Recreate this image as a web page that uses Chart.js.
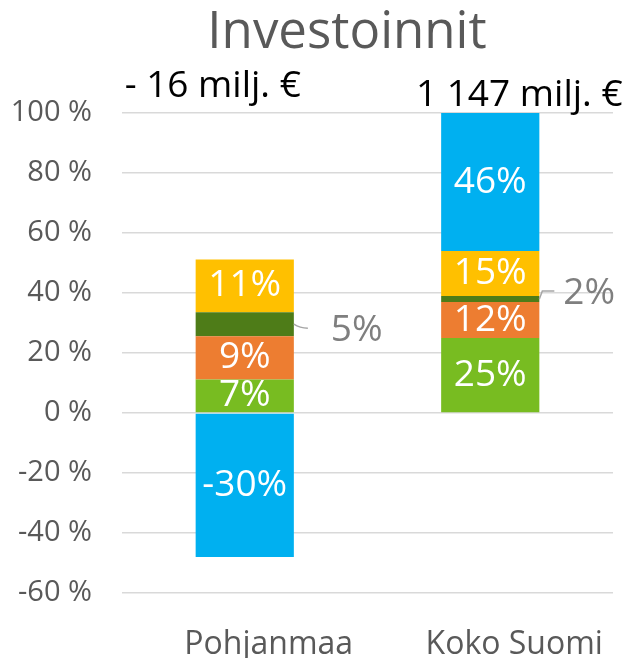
<!DOCTYPE html>
<html>
<head>
<meta charset="utf-8">
<title>Investoinnit</title>
<script src="https://cdn.jsdelivr.net/npm/chart.js@4.4.0/dist/chart.umd.min.js"></script>
<style>
    html, body { margin: 0; padding: 0; background: #ffffff; }
    #wrap { width: 631px; height: 661px; }
</style>
</head>
<body>
<div id="wrap"><canvas id="chart" width="631" height="661"></canvas></div>
<script>
(function() {
    'use strict';

    // --- data (bar heights, labels as printed) ---
    var title = 'Investoinnit';
    var categories = ['Pohjanmaa', 'Koko Suomi'];
    var totals = ['- 16 milj. €', '1 147 milj. €'];

    var seriesNames = ['Sarja 1', 'Sarja 2', 'Sarja 3', 'Sarja 4', 'Sarja 5'];
    var series1 = [11.2, 25];
    var series2 = [14.4, 12];
    var series3 = [8, 2];
    var series4 = [17.6, 15];
    var series5 = [-48, 46];

    var labels1 = ['7%', '25%'];
    var labels2 = ['9%', '12%'];
    var labels3 = ['5%', '2%'];
    var labels4 = ['11%', '15%'];
    var labels5 = ['-30%', '46%'];

    var yTicks = [-60, -40, -20, 0, 20, 40, 60, 80, 100];

    var colors = ['#78BC21', '#ED7D31', '#4E7C18', '#FFC000', '#00B0F0'];
    var FONT = "'Open Sans', 'DejaVu Sans', sans-serif";

    var seriesValues = [series1, series2, series3, series4, series5];
    var seriesLabels = [labels1, labels2, labels3, labels4, labels5];
    var OUTSIDE = 2; // thin segment, label drawn beside the bar

    var barLabels = {
        id: 'barLabels',
        beforeDraw: function(chart) {
            var ctx = chart.ctx;
            ctx.save();
            ctx.fillStyle = '#595959';
            ctx.font = '51px ' + FONT;
            ctx.textAlign = 'center';
            ctx.textBaseline = 'middle';
            ctx.fillText(title, 347, 33);
            ctx.restore();
        },
        afterDatasetsDraw: function(chart) {
            var ctx = chart.ctx;
            ctx.save();
            ctx.textBaseline = 'middle';
            seriesLabels.forEach(function(labels, d) {
                var meta = chart.getDatasetMeta(d);
                meta.data.forEach(function(el, i) {
                    var p = el.getProps(['x', 'y', 'base', 'width'], true);
                    var cy = (p.y + p.base) / 2;
                    if (d === OUTSIDE) {
                        var right = p.x + p.width / 2;
                        ctx.strokeStyle = '#A6A6A6';
                        ctx.lineWidth = 1.5;
                        ctx.beginPath();
                        ctx.moveTo(right, cy);
                        if (i === 0) {
                            ctx.quadraticCurveTo(right + 6, cy + 4, right + 14, cy + 4);
                        } else {
                            ctx.lineTo(right + 3, cy - 8);
                            ctx.lineTo(right + 15, cy - 8);
                        }
                        ctx.stroke();
                        ctx.fillStyle = '#7F7F7F';
                        ctx.font = '37px ' + FONT;
                        ctx.textAlign = 'left';
                        if (i === 0) {
                            ctx.fillText(labels[i], right + 37, cy + 6);
                        } else {
                            ctx.fillText(labels[i], right + 24, cy - 6);
                        }
                    } else {
                        ctx.fillStyle = '#ffffff';
                        ctx.font = '37px ' + FONT;
                        ctx.textAlign = 'center';
                        ctx.fillText(labels[i], p.x, cy);
                    }
                });
            });

            // totals above the bars
            var meta0 = chart.getDatasetMeta(0);
            var shift = [{ dx: -32, dy: -27 }, { dx: 29, dy: -18 }];
            ctx.fillStyle = '#000000';
            ctx.font = '37px ' + FONT;
            ctx.textAlign = 'center';
            totals.forEach(function(t, i) {
                var x = meta0.data[i].x;
                ctx.fillText(t, x + shift[i].dx, chart.chartArea.top + shift[i].dy);
            });
            ctx.restore();
        }
    };

    var datasets = seriesValues.map(function(vals, d) {
        return {
            label: seriesNames[d],
            data: vals,
            backgroundColor: colors[d],
            borderWidth: 0,
            barPercentage: 0.4,
            categoryPercentage: 1.0
        };
    });

    new Chart(document.getElementById('chart').getContext('2d'), {
        type: 'bar',
        data: { labels: categories, datasets: datasets },
        options: {
            responsive: false,
            animation: false,
            layout: { padding: { left: 13, right: 18, top: 113, bottom: 3 } },
            plugins: {
                legend: { display: false },
                tooltip: { enabled: false },
                title: { display: false }
            },
            scales: {
                x: {
                    stacked: true,
                    grid: { display: false, drawTicks: false },
                    border: { display: false },
                    afterFit: function(scale) { scale.height = 65; },
                    ticks: {
                        color: '#595959',
                        font: { family: FONT, size: 32 },
                        padding: 33,
                        labelOffset: 24
                    }
                },
                y: {
                    stacked: true,
                    min: -60,
                    max: 100,
                    afterBuildTicks: function(scale) {
                        scale.ticks = yTicks.map(function(v) { return { value: v }; });
                    },
                    afterFit: function(scale) { scale.width = 109; },
                    grid: { color: '#D9D9D9', lineWidth: 1.5, drawTicks: false },
                    border: { display: false },
                    ticks: {
                        color: '#595959',
                        font: { family: FONT, size: 29 },
                        padding: 30,
                        callback: function(value) { return value + ' %'; }
                    }
                }
            }
        },
        plugins: [barLabels]
    });
})();
</script>
</body>
</html>
